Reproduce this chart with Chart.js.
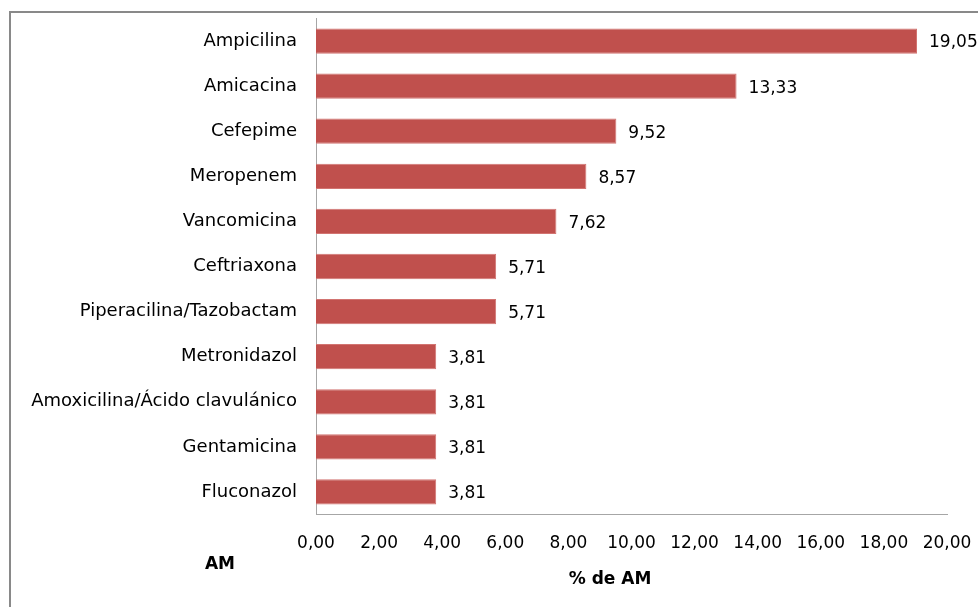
<!DOCTYPE html>
<html>
<head>
<meta charset="utf-8">
<script src="https://cdn.jsdelivr.net/npm/chart.js@4"></script>
<style>
html,body{margin:0;padding:0;background:#fff;}
#wrap{width:978px;height:607px;position:relative;}
</style>
</head>
<body>
<div id="wrap"><canvas id="c" width="978" height="607"></canvas></div>
<script>
const categories = ["Ampicilina","Amicacina","Cefepime","Meropenem","Vancomicina","Ceftriaxona","Piperacilina/Tazobactam","Metronidazol","Amoxicilina/Ácido clavulánico","Gentamicina","Fluconazol"];
const values = [19.05,13.33,9.52,8.57,7.62,5.71,5.71,3.81,3.81,3.81,3.81];
const xTicksMin = 0, xTicksMax = 20, xTickStep = 2;
const xTitle = "% de AM";
const yTitle = "AM";

const FONT = "'DejaVu Sans', Verdana, sans-serif";
const fmt = v => v.toFixed(2).replace('.', ',');

const extras = {
  id: 'extras',
  beforeDraw(chart) {
    const ctx = chart.ctx;
    ctx.save();
    ctx.fillStyle = '#fff';
    ctx.fillRect(0,0,chart.width,chart.height);
    ctx.strokeStyle = '#898989';
    ctx.lineWidth = 2;
    ctx.strokeRect(10, 12, chart.width + 20, chart.height + 20);
    ctx.restore();
  },
  afterDatasetsDraw(chart) {
    const ctx = chart.ctx;
    const meta = chart.getDatasetMeta(0);
    ctx.save();
    ctx.font = "17px " + FONT;
    ctx.fillStyle = '#000';
    ctx.textBaseline = 'middle';
    ctx.textAlign = 'left';
    meta.data.forEach((bar, i) => {
      ctx.fillText(fmt(values[i]), bar.x + 12, bar.y + 2);
    });
    ctx.font = "bold 17px " + FONT;
    ctx.textAlign = 'center';
    ctx.fillText(yTitle, 220, 565);
    ctx.fillText(xTitle, 610, 580);
    ctx.restore();
  }
};

new Chart(document.getElementById('c'), {
  type: 'bar',
  data: {
    labels: categories,
    datasets: [{
      data: values,
      backgroundColor: '#C0504D',
      borderColor: '#D27471',
      borderWidth: 1,
      borderSkipped: 'left',
      categoryPercentage: 0.56,
      barPercentage: 1.0
    }]
  },
  options: {
    indexAxis: 'y',
    responsive: false,
    animation: false,
    devicePixelRatio: 1,
    layout: { padding: { left: 0, right: 31, top: 18.5, bottom: 0 } },
    plugins: { legend: { display: false }, tooltip: { enabled: false } },
    scales: {
      x: {
        min: xTicksMin, max: xTicksMax,
        ticks: { stepSize: xTickStep, callback: v => fmt(v), color: '#000', font: { family: FONT, size: 17 }, padding: 19, maxRotation: 0, autoSkip: false },
        grid: { display: false, drawTicks: false },
        border: { display: true, color: '#A6A6A6', width: 1 },
        afterFit(s) { s.height = 607 - 514.5; s.paddingLeft = 0; s.paddingRight = 0; }
      },
      y: {
        ticks: { color: '#000', font: { family: FONT, size: 18 }, padding: 19, autoSkip: false },
        grid: { display: false, drawTicks: false },
        border: { display: true, color: '#A6A6A6', width: 1 },
        afterFit(s) { s.width = 316; s.paddingTop = 0; s.paddingBottom = 0; }
      }
    }
  },
  plugins: [extras]
});
</script>
</body>
</html>
